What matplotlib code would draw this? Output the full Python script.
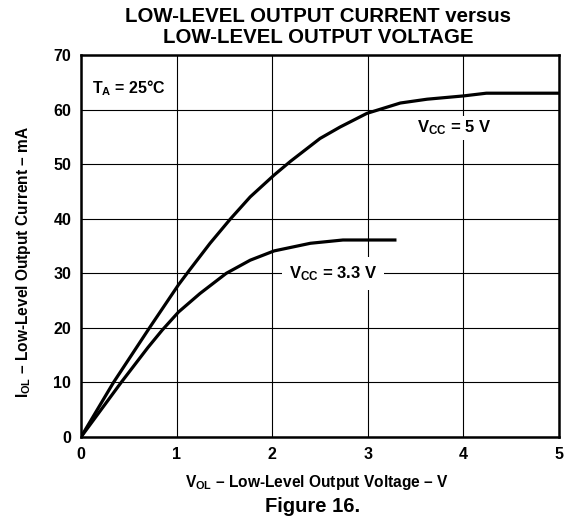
import matplotlib
matplotlib.use("Agg")
import matplotlib.pyplot as plt

plt.rcParams['font.family'] = ['Liberation Sans', 'DejaVu Sans']
plt.rcParams['font.weight'] = 'bold'
plt.rcParams['axes.labelweight'] = 'bold'
plt.rcParams['mathtext.fontset'] = 'custom'
plt.rcParams['mathtext.rm'] = 'Liberation Sans:bold'
plt.rcParams['mathtext.it'] = 'Liberation Sans:bold'
plt.rcParams['mathtext.bf'] = 'Liberation Sans:bold'

# curve data (V, mA)
vcc5_v = [0, 0.34, 0.72, 1.02, 1.14, 1.35, 1.56, 1.77, 2.02, 2.19, 2.50, 2.71, 2.99, 3.34, 3.62, 4.0, 4.24, 5.0]
vcc5_i = [0, 10, 20.1, 27.9, 30.7, 35.5, 39.9, 44.0, 48.0, 50.5, 54.7, 56.8, 59.3, 61.2, 61.9, 62.5, 63.0, 63.0]
vcc33_v = [0, 0.42, 0.70, 0.85, 1.02, 1.245, 1.52, 1.77, 2.02, 2.40, 2.74, 3.3]
vcc33_i = [0, 10, 16.4, 19.6, 22.9, 26.3, 30, 32.4, 34.1, 35.5, 36.1, 36.1]

x_ticks = [0, 1, 2, 3, 4, 5]
y_ticks = [0, 10, 20, 30, 40, 50, 60, 70]

fig = plt.figure(figsize=(5.65, 5.23), dpi=100)
ax = fig.add_axes([81/565, 1-437/523, 478/565, 382/523])

ax.plot(vcc5_v, vcc5_i, color='black', lw=2.3, solid_joinstyle='round', solid_capstyle='butt', zorder=3)
ax.plot(vcc33_v, vcc33_i, color='black', lw=2.3, solid_joinstyle='round', solid_capstyle='butt', zorder=3)

ax.set_xlim(0, 5)
ax.set_ylim(0, 70)
ax.set_xticks(x_ticks)
ax.set_yticks(y_ticks)
ax.tick_params(length=0, labelsize=11.5)
ax.tick_params(axis='y', pad=7)
ax.tick_params(axis='x', pad=7)
ax.grid(True, color='black', lw=0.8)
for s in ax.spines.values():
    s.set_linewidth(1.8)

ax.text(0.11, 64, 'T$_\\mathrm{A}$ = 25°C', fontsize=11.5, va='center', ha='left')
ax.text(3.9, 56.6, 'V$_\\mathrm{CC}$ = 5 V', fontsize=12, va='center', ha='center',
        bbox=dict(fc='white', ec='none', pad=2), zorder=4)
ax.text(2.64, 30, 'V$_\\mathrm{CC}$ = 3.3 V', fontsize=12, va='center', ha='center',
        bbox=dict(fc='white', ec='none', pad=5), zorder=4)

ax.set_xlabel('V$_\\mathrm{OL}$ – Low-Level Output Voltage – V', fontsize=11.2)
ax.xaxis.set_label_coords(0.494, -0.094)
ax.set_ylabel('I$_\\mathrm{OL}$ – Low-Level Output Current – mA', fontsize=11.2)
ax.yaxis.set_label_coords(-0.10, 0.458)

fig.text(318/565, 1-22/523, 'LOW-LEVEL OUTPUT CURRENT versus',
         ha='center', va='baseline', fontsize=14.7)
fig.text(318/565, 1-43/523, 'LOW-LEVEL OUTPUT VOLTAGE',
         ha='center', va='baseline', fontsize=14.7)
fig.text(313/565, 1-507/523, 'Figure 16.', ha='center', va='center', fontsize=14.5)

fig.savefig('out.png', dpi=100)
